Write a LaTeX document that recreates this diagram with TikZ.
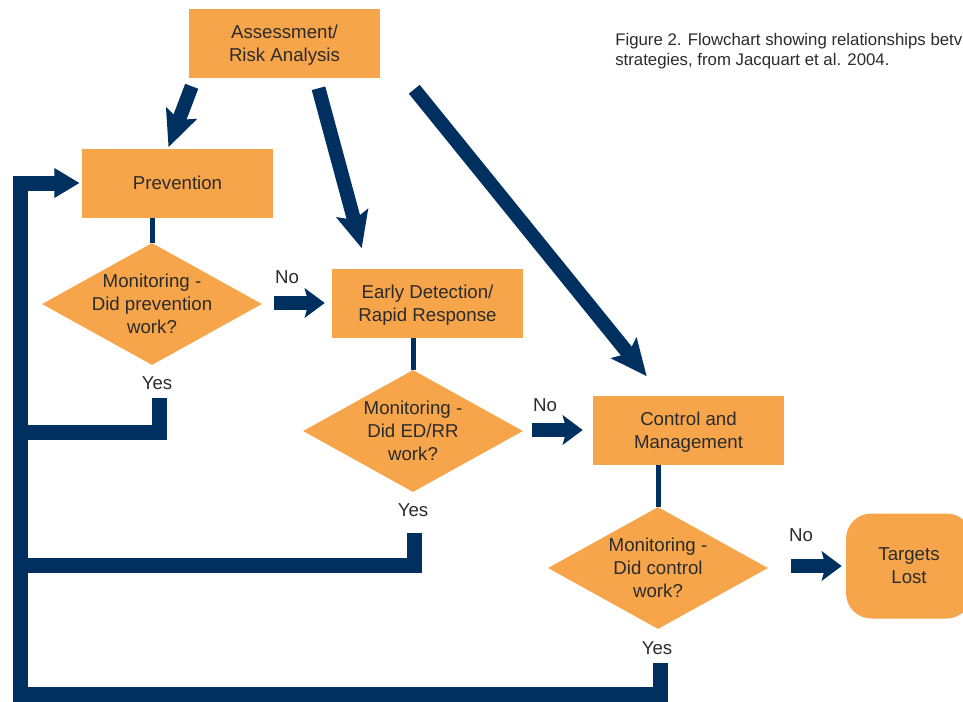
\documentclass[tikz,border=0pt]{standalone}
\usepackage{fontspec}
\setmainfont{Liberation Sans}
\usetikzlibrary{shapes.geometric,arrows.meta,calc,positioning}
\definecolor{boxorange}{HTML}{F6A54A}
\definecolor{flownavy}{HTML}{00305F}
\definecolor{inkgray}{HTML}{2B2B2B}

\begin{document}
\begin{tikzpicture}[x=0.75pt, y=-0.75pt,
    every node/.style={text=inkgray, font=\fontsize{14}{17.25}\selectfont, align=center},
    stage/.style={rectangle, fill=boxorange, minimum width=143.25pt, minimum height=51.75pt, inner sep=0pt, text depth=0pt},
    check/.style={diamond, fill=boxorange, aspect=1.8, minimum width=165pt, minimum height=91.5pt, inner sep=-3pt, text depth=-4pt},
    answer/.style={inner sep=0pt},
    link/.style={draw=flownavy, line width=3.75pt},
    feedback/.style={draw=flownavy, line width=11.25pt},
    bigarrow/.style={draw=flownavy, line width=10.5pt, -{Stealth[length=27pt, width=24pt, inset=5pt]}},
    noarrow/.style={draw=flownavy, line width=10.5pt, -{Stealth[length=15pt, width=22pt, inset=3pt]}}]
\useasboundingbox (0,0) rectangle (963,701);

\node[stage] (assess) at (284.5,43.5) {Assessment/\\Risk Analysis};
\node[stage] (prev) at (177.5,183) {Prevention};
\node[check] (mon1) at (152,304) {Monitoring -\\Did prevention\\work?};
\node[stage] (edrr) at (427.5,303) {Early Detection/\\Rapid Response};
\node[check] (mon2) at (413,431) {Monitoring -\\Did ED/RR\\work?};
\node[stage] (ctrl) at (688.5,430) {Control and\\Management};
\node[check] (mon3) at (658,568) {Monitoring -\\Did control\\work?};
\node[stage, rounded corners=19pt, minimum width=94.5pt, minimum height=78.75pt] (lost) at (909,566) {Targets\\Lost};

\node[anchor=north west, inner sep=0pt, align=left, font=\fontsize{12.6}{15.4}\selectfont] (caption) at (615,33)
  {Figure 2. Flowchart showing relationships betv\\strategies, from Jacquart et al. 2004.};

\node[answer] (no1) at (287,277) {No};
\node[answer] (no2) at (545,405) {No};
\node[answer] (no3) at (801,535) {No};
\node[answer] (yes1) at (157,383) {Yes};
\node[answer] (yes2) at (413,510) {Yes};
\node[answer] (yes3) at (657,648) {Yes};

\coordinate (spine) at (20,694);
\coordinate (join1) at (20,432);
\coordinate (join2) at (20,565);

% from the assessment
\draw[bigarrow] ($(assess.south west)+(3,8)$) -- ($(prev.north)+(-9,-1)$);
\draw[bigarrow] ($(assess.south)+(34,10)$) -- ($(edrr.north west)+(30,-20)$);
\draw[bigarrow] ($(assess.south east)+(34,11)$) -- ($(ctrl.north west)+(54,-19)$);

% monitoring steps
\draw[link] (prev.south -| mon1.north) -- (mon1.north);
\draw[link] (edrr.south -| mon2.north) -- (mon2.north);
\draw[link] (ctrl.south -| mon3.north) -- (mon3.north);

\draw[noarrow] ($(mon1.east)+(12,-1)$) -- ($(edrr.west)+(-7,0)$);
\draw[noarrow] ($(mon2.east)+(9,-1)$) -- ($(ctrl.west)+(-10,0)$);
\draw[noarrow] ($(mon3.east)+(23,-2)$) -- ($(lost.west)+(-4,0)$);

% back to prevention
\draw[feedback, -{Triangle[length=19pt, width=21pt]}] ($(yes3)+(3,15)$) |- (spine) |- ($(prev.west)+(-2,0)$);
\draw[feedback] ($(yes1)+(2,15)$) |- (join1);
\draw[feedback] ($(yes2)+(1,23)$) |- (join2);
\end{tikzpicture}
\end{document}
